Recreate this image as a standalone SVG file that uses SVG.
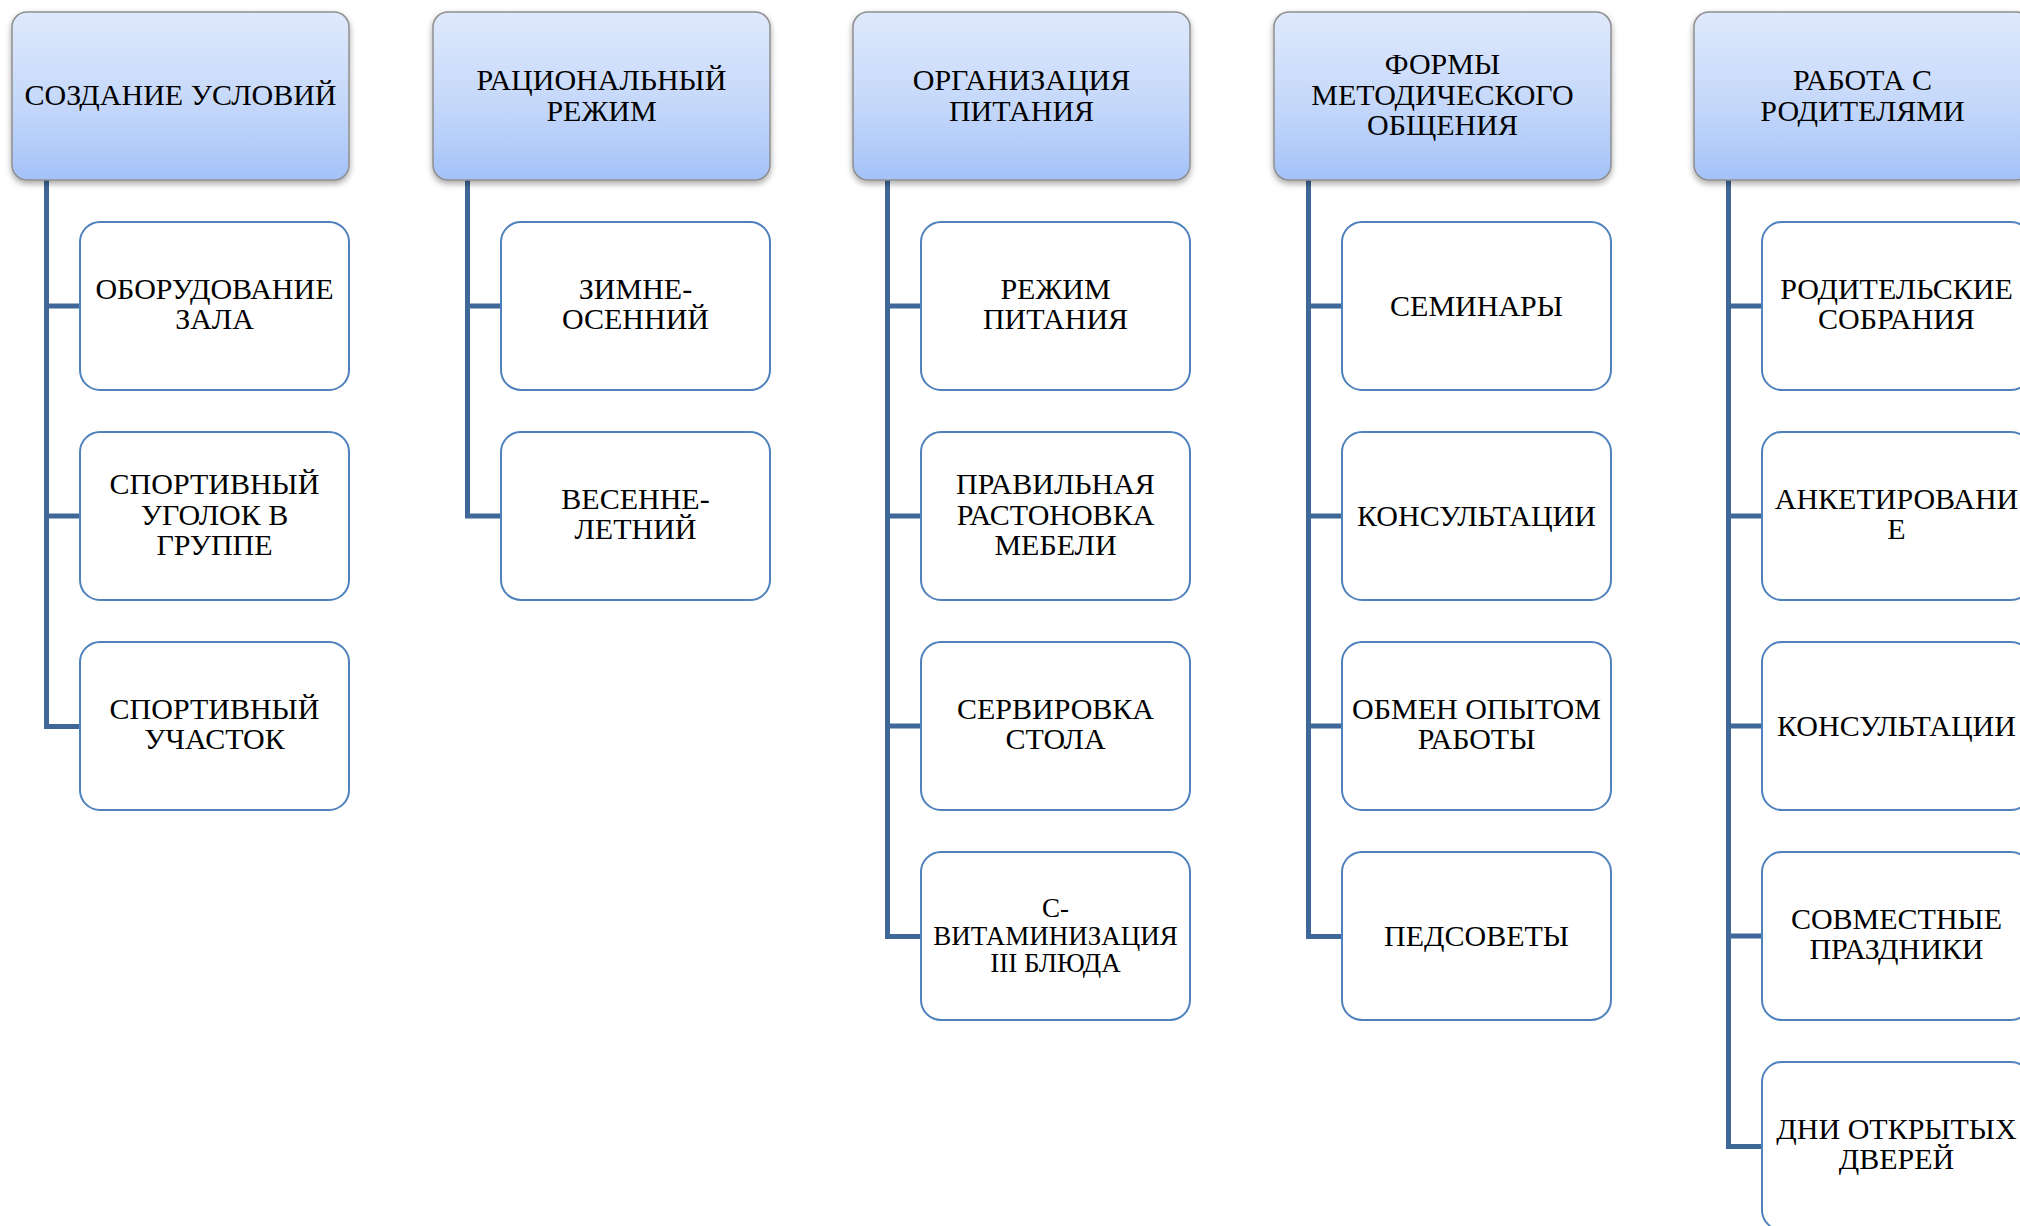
<svg xmlns="http://www.w3.org/2000/svg" width="2020" height="1226" viewBox="0 0 2020 1226">
  <defs>
    <linearGradient id="hdrFill" x1="0" y1="0" x2="0" y2="1">
      <stop offset="0" stop-color="#dfe9fc"/>
      <stop offset="0.55" stop-color="#c5d8fa"/>
      <stop offset="1" stop-color="#a4c2f8"/>
    </linearGradient>
    <filter id="hdrShadow" x="-10%" y="-10%" width="120%" height="130%">
      <feDropShadow dx="0" dy="3" stdDeviation="3" flood-color="#000" flood-opacity="0.35"/>
    </filter>
  </defs>
  <style>
    .hdr { fill: url(#hdrFill); stroke: #8e8e8e; stroke-width: 1.5; filter: url(#hdrShadow); }
    .item { fill: #ffffff; stroke: #4f81bd; stroke-width: 2; }
    .conn { fill: none; stroke: #3f6797; stroke-width: 5; stroke-linejoin: miter; }
    text { font-family: "Liberation Serif", "Times New Roman", serif; font-size: 30px; fill: #000; text-anchor: middle; }
    .small { font-size: 27px; }
  </style>
  <rect width="2020" height="1226" fill="#ffffff"/>

  <!-- connectors: trunk from each header down to its last item, with a branch to every item -->
  <g id="connectors">
    <path class="conn" d="M46.5 180 V726.5 H80 M46.5 306 H80 M46.5 516 H80"/>
    <path class="conn" d="M467.5 180 V516 H501 M467.5 306 H501"/>
    <path class="conn" d="M887.5 180 V936.5 H921 M887.5 306 H921 M887.5 516 H921 M887.5 726 H921"/>
    <path class="conn" d="M1308.5 180 V936.5 H1342 M1308.5 306 H1342 M1308.5 516 H1342 M1308.5 726 H1342"/>
    <path class="conn" d="M1728.5 180 V1146.5 H1762 M1728.5 306 H1762 M1728.5 516 H1762 M1728.5 726 H1762 M1728.5 936 H1762"/>
  </g>

  <!-- column 1 -->
  <g id="h1"><rect class="hdr" x="12" y="12" width="337" height="168" rx="15"/>
    <text x="180.5" y="105">СОЗДАНИЕ УСЛОВИЙ</text></g>
  <g id="c1-1"><rect class="item" x="80" y="222" width="269" height="168" rx="20"/>
    <text x="214.5" y="298.5">ОБОРУДОВАНИЕ</text><text x="214.5" y="329">ЗАЛА</text></g>
  <g id="c1-2"><rect class="item" x="80" y="432" width="269" height="168" rx="20"/>
    <text x="214.5" y="494">СПОРТИВНЫЙ</text><text x="214.5" y="524.5">УГОЛОК В</text><text x="214.5" y="555">ГРУППЕ</text></g>
  <g id="c1-3"><rect class="item" x="80" y="642" width="269" height="168" rx="20"/>
    <text x="214.5" y="718.5">СПОРТИВНЫЙ</text><text x="214.5" y="749">УЧАСТОК</text></g>

  <!-- column 2 -->
  <g id="h2"><rect class="hdr" x="433" y="12" width="337" height="168" rx="15"/>
    <text x="601.5" y="90">РАЦИОНАЛЬНЫЙ</text><text x="601.5" y="120.5">РЕЖИМ</text></g>
  <g id="c2-1"><rect class="item" x="501" y="222" width="269" height="168" rx="20"/>
    <text x="635.5" y="298.5">ЗИМНЕ-</text><text x="635.5" y="329">ОСЕННИЙ</text></g>
  <g id="c2-2"><rect class="item" x="501" y="432" width="269" height="168" rx="20"/>
    <text x="635.5" y="508.5">ВЕСЕННЕ-</text><text x="635.5" y="539">ЛЕТНИЙ</text></g>

  <!-- column 3 -->
  <g id="h3"><rect class="hdr" x="853" y="12" width="337" height="168" rx="15"/>
    <text x="1021.5" y="90">ОРГАНИЗАЦИЯ</text><text x="1021.5" y="120.5">ПИТАНИЯ</text></g>
  <g id="c3-1"><rect class="item" x="921" y="222" width="269" height="168" rx="20"/>
    <text x="1055.5" y="298.5">РЕЖИМ</text><text x="1055.5" y="329">ПИТАНИЯ</text></g>
  <g id="c3-2"><rect class="item" x="921" y="432" width="269" height="168" rx="20"/>
    <text x="1055.5" y="494">ПРАВИЛЬНАЯ</text><text x="1055.5" y="524.5">РАСТОНОВКА</text><text x="1055.5" y="555">МЕБЕЛИ</text></g>
  <g id="c3-3"><rect class="item" x="921" y="642" width="269" height="168" rx="20"/>
    <text x="1055.5" y="718.5">СЕРВИРОВКА</text><text x="1055.5" y="749">СТОЛА</text></g>
  <g id="c3-4"><rect class="item" x="921" y="852" width="269" height="168" rx="20"/>
    <text class="small" x="1055.5" y="917">С-</text><text class="small" x="1055.5" y="944.5">ВИТАМИНИЗАЦИЯ</text><text class="small" x="1055.5" y="972">III БЛЮДА</text></g>

  <!-- column 4 -->
  <g id="h4"><rect class="hdr" x="1274" y="12" width="337" height="168" rx="15"/>
    <text x="1442.5" y="74">ФОРМЫ</text><text x="1442.5" y="104.5">МЕТОДИЧЕСКОГО</text><text x="1442.5" y="135">ОБЩЕНИЯ</text></g>
  <g id="c4-1"><rect class="item" x="1342" y="222" width="269" height="168" rx="20"/>
    <text x="1476.5" y="316">СЕМИНАРЫ</text></g>
  <g id="c4-2"><rect class="item" x="1342" y="432" width="269" height="168" rx="20"/>
    <text x="1476.5" y="526">КОНСУЛЬТАЦИИ</text></g>
  <g id="c4-3"><rect class="item" x="1342" y="642" width="269" height="168" rx="20"/>
    <text x="1476.5" y="718.5">ОБМЕН ОПЫТОМ</text><text x="1476.5" y="749">РАБОТЫ</text></g>
  <g id="c4-4"><rect class="item" x="1342" y="852" width="269" height="168" rx="20"/>
    <text x="1476.5" y="946">ПЕДСОВЕТЫ</text></g>

  <!-- column 5 -->
  <g id="h5"><rect class="hdr" x="1694" y="12" width="337" height="168" rx="15"/>
    <text x="1862.5" y="90">РАБОТА С</text><text x="1862.5" y="120.5">РОДИТЕЛЯМИ</text></g>
  <g id="c5-1"><rect class="item" x="1762" y="222" width="269" height="168" rx="20"/>
    <text x="1896.5" y="298.5">РОДИТЕЛЬСКИЕ</text><text x="1896.5" y="329">СОБРАНИЯ</text></g>
  <g id="c5-2"><rect class="item" x="1762" y="432" width="269" height="168" rx="20"/>
    <text x="1896.5" y="508.5">АНКЕТИРОВАНИ</text><text x="1896.5" y="539">Е</text></g>
  <g id="c5-3"><rect class="item" x="1762" y="642" width="269" height="168" rx="20"/>
    <text x="1896.5" y="736">КОНСУЛЬТАЦИИ</text></g>
  <g id="c5-4"><rect class="item" x="1762" y="852" width="269" height="168" rx="20"/>
    <text x="1896.5" y="928.5">СОВМЕСТНЫЕ</text><text x="1896.5" y="959">ПРАЗДНИКИ</text></g>
  <g id="c5-5"><rect class="item" x="1762" y="1062" width="269" height="168" rx="20"/>
    <text x="1896.5" y="1138.5">ДНИ ОТКРЫТЫХ</text><text x="1896.5" y="1169">ДВЕРЕЙ</text></g>
</svg>
